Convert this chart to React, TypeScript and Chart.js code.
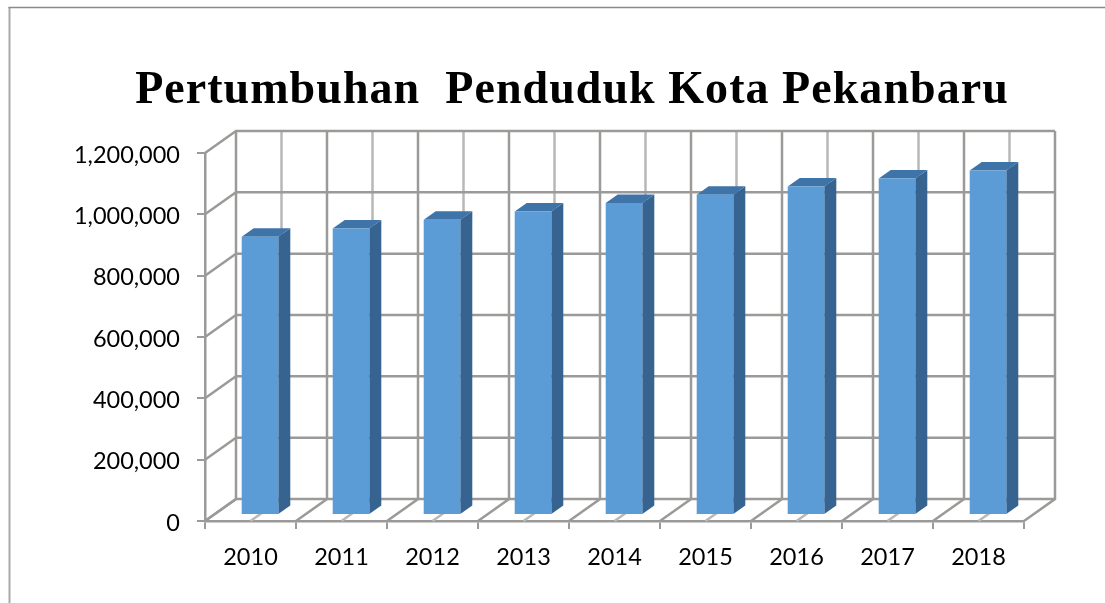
import React, { useEffect, useRef } from "react";
import { Chart, registerables } from "chart.js";

Chart.register(...registerables);

const years = ["2010", "2011", "2012", "2013", "2014", "2015", "2016", "2017", "2018"];
const population = [907000, 934000, 963000, 990000, 1017000, 1044000, 1071000, 1097000, 1123000];
const titleText = "Pertumbuhan  Penduduk Kota Pekanbaru";

const DEPTH_X = 31;
const DEPTH_Y = -22;
const BAR_SHIFT_X = 9.5;
const BAR_SHIFT_Y = -6;
const BAR_DEPTH_X = 12;
const BAR_DEPTH_Y = -8.5;
const TITLE_SHIFT_X = 60;
const LABEL_SHIFT_Y = 2;
const GRID = "#9b9a99";
const GRID_LIGHT = "#b8b8b8";

function line(ctx: CanvasRenderingContext2D, pts: number[][], color: string, width = 2.5) {
  ctx.beginPath();
  pts.forEach((p, i) => (i ? ctx.lineTo(p[0], p[1]) : ctx.moveTo(p[0], p[1])));
  ctx.strokeStyle = color;
  ctx.lineWidth = width;
  ctx.lineJoin = "miter";
  ctx.stroke();
}

const wallPlugin = {
  id: "wall3d",
  afterLayout(chart: any) {
    const tb = chart.titleBlock;
    if (tb && !tb.__spaced) {
      tb.__spaced = true;
      const orig = tb.draw.bind(tb);
      tb.draw = () => {
        const c = chart.ctx;
        c.save();
        c.letterSpacing = "1.05px";
        c.translate(TITLE_SHIFT_X, 0);
        orig();
        c.restore();
      };
    }
    const ys = chart.scales.y;
    if (ys && !ys.__shifted) {
      ys.__shifted = true;
      const origLabels = ys.drawLabels.bind(ys);
      ys.drawLabels = (area: any) => {
        const c = chart.ctx;
        c.save();
        c.translate(0, LABEL_SHIFT_Y);
        origLabels(area);
        c.restore();
      };
    }
  },
  beforeDraw(chart: any) {
    const ctx = chart.ctx;
    line(ctx, [[9.5, 603], [9.5, 7]], "#a9a9a9", 2);
    line(ctx, [[8.5, 7.5], [1105, 7.5]], "#8a8a8a", 1.5);
  },
  beforeDatasetsDraw(chart: any) {
    const ctx: CanvasRenderingContext2D = chart.ctx;
    const { left, right, top, bottom } = chart.chartArea;
    const xs = chart.scales.x;
    const ys = chart.scales.y;
    const n = years.length;
    const step = (right - left) / n;

    for (let i = 0; i < n; i++) {
      const mid = xs.getPixelForTick(i);
      line(ctx, [[mid, bottom], [mid + DEPTH_X, bottom + DEPTH_Y], [mid + DEPTH_X, top + DEPTH_Y]], GRID_LIGHT);
    }
    for (let i = 0; i <= n; i++) {
      const e = left + i * step;
      line(ctx, [[e, bottom], [e + DEPTH_X, bottom + DEPTH_Y], [e + DEPTH_X, top + DEPTH_Y]], GRID);
    }
    ys.ticks.forEach((t: any) => {
      const y = ys.getPixelForValue(t.value);
      line(ctx, [[left, y], [left + DEPTH_X, y + DEPTH_Y], [right + DEPTH_X, y + DEPTH_Y]], GRID);
    });

    ctx.save();
    ctx.translate(BAR_SHIFT_X, BAR_SHIFT_Y);
    const bars = chart.getDatasetMeta(0).data;
    bars.forEach((b: any) => {
      const hw = b.width / 2;
      const l = b.x - hw;
      const r = b.x + hw;
      const t = b.y;
      const base = b.base;
      ctx.beginPath();
      ctx.moveTo(r, t);
      ctx.lineTo(r + BAR_DEPTH_X, t + BAR_DEPTH_Y);
      ctx.lineTo(r + BAR_DEPTH_X, base + BAR_DEPTH_Y);
      ctx.lineTo(r, base);
      ctx.closePath();
      ctx.fillStyle = "#36638f";
      ctx.fill();
      ctx.beginPath();
      ctx.moveTo(l, t);
      ctx.lineTo(l + BAR_DEPTH_X, t + BAR_DEPTH_Y);
      ctx.lineTo(r + BAR_DEPTH_X, t + BAR_DEPTH_Y);
      ctx.lineTo(r, t);
      ctx.closePath();
      ctx.fillStyle = "#3f74a9";
      ctx.fill();
    });
  },
  afterDatasetsDraw(chart: any) {
    chart.ctx.restore();
  },
};

export default function App() {
  const ref = useRef<HTMLCanvasElement>(null);
  useEffect(() => {
    document.body.style.margin = "0";
    const chart = new Chart(ref.current!, {
      type: "bar",
      data: {
        labels: years,
        datasets: [
          {
            data: population,
            backgroundColor: "#5b9bd6",
            borderWidth: 0,
            categoryPercentage: 1,
            barPercentage: 0.402,
            clip: false,
          } as any,
        ],
      },
      plugins: [wallPlugin],
      options: {
        animation: false,
        responsive: false,
        layout: { padding: { left: 0, right: 81, top: 0, bottom: 0 } },
        plugins: {
          legend: { display: false },
          tooltip: { enabled: false },
          title: {
            display: true,
            text: titleText,
            color: "#000000",
            font: { family: "'Liberation Serif'", size: 46, weight: "bold", lineHeight: 1.2 },
            padding: { top: 64, bottom: 33.8 },
          },
        },
        scales: {
          x: {
            afterFit: (s: any) => { s.height = 82; },
            grid: { drawOnChartArea: false, drawTicks: true, tickLength: 8, color: GRID, lineWidth: 2 },
            border: { color: GRID, width: 2.5 },
            ticks: { color: "#000000", font: { family: "Lato", size: 23.5 }, padding: 14, maxRotation: 0 },
          },
          y: {
            min: 0,
            max: 1200000,
            afterFit: (s: any) => { s.width = 205; },
            grid: { drawOnChartArea: false, drawTicks: true, tickLength: 8, color: GRID, lineWidth: 2 },
            border: { color: GRID, width: 2.5 },
            ticks: {
              stepSize: 200000,
              color: "#000000",
              font: { family: "Lato", size: 23.5 },
              padding: 17,
              callback: (v: any) => Number(v).toLocaleString("en-US"),
            },
          },
        },
      },
    } as any);
    return () => chart.destroy();
  }, []);
  return <canvas ref={ref} width={1105} height={603} style={{ display: "block", width: 1105, height: 603 }} />;
}
